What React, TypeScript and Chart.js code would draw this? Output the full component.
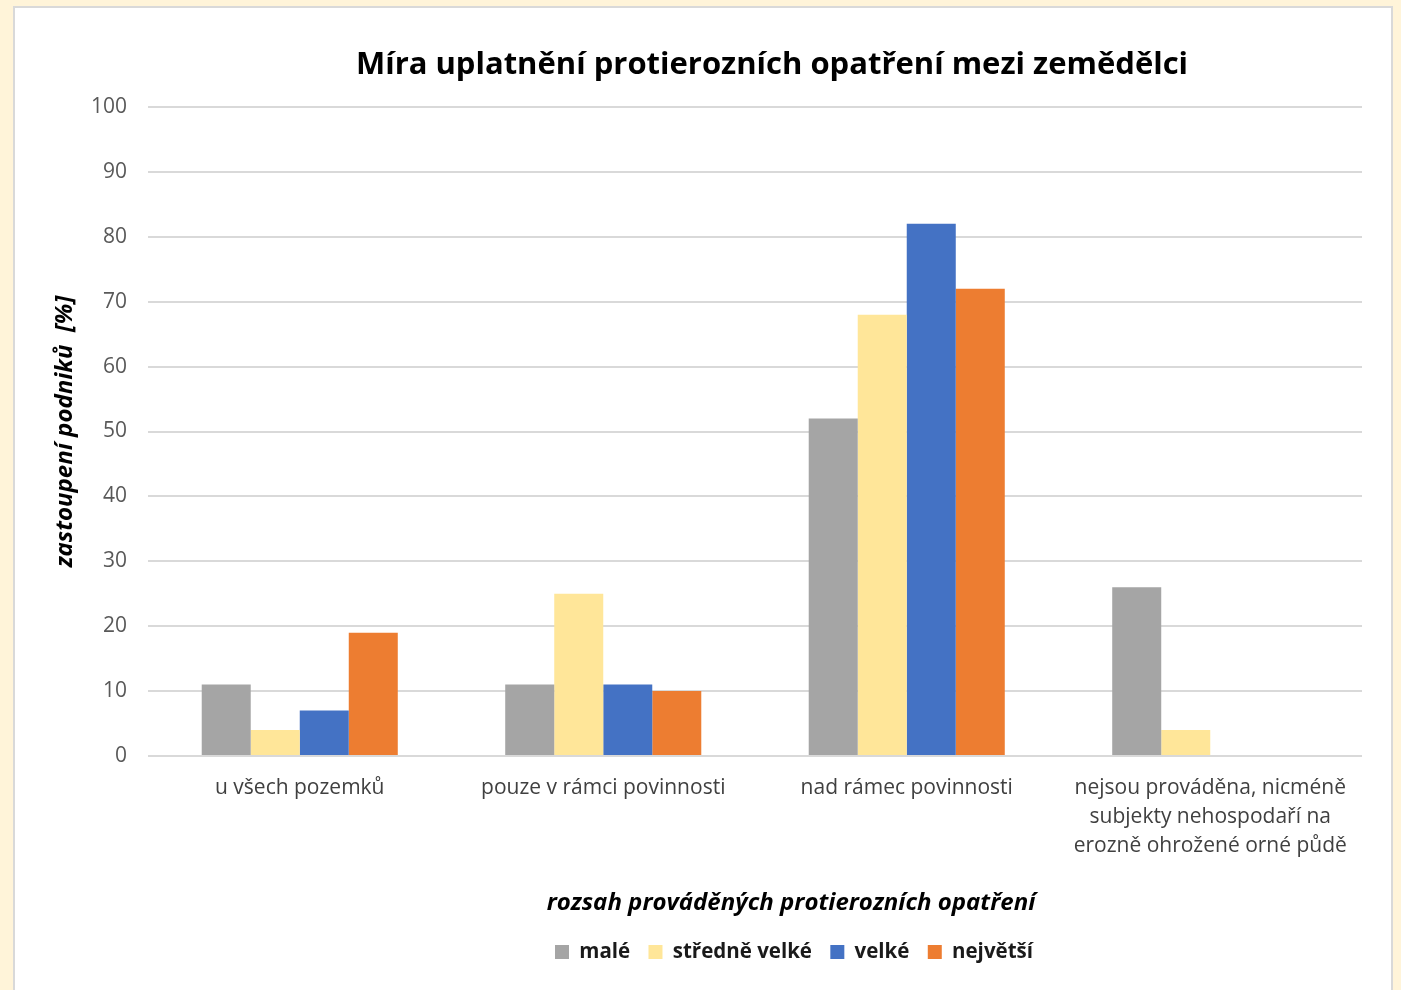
import React, { useEffect, useRef } from "react";
import { Chart, registerables } from "chart.js";

Chart.register(...registerables);

const TITLE = "Míra uplatnění protierozních opatření mezi zemědělci";
const Y_TITLE = "zastoupení podniků  [%]";
const X_TITLE = "rozsah prováděných protierozních opatření";

const CATEGORIES: (string | string[])[] = [
  "u všech pozemků",
  "pouze v rámci povinnosti",
  "nad rámec povinnosti",
  ["nejsou prováděna, nicméně", "subjekty nehospodaří na", "erozně ohrožené orné půdě"],
];

const SERIES_NAMES = ["malé", "středně velké", "velké", "největší"];
const MALE = [11, 11, 52, 26];
const STREDNE_VELKE = [4, 25, 68, 4];
const VELKE = [7, 11, 82, 0];
const NEJVETSI = [19, 10, 72, 0];
const SERIES_VALUES = [MALE, STREDNE_VELKE, VELKE, NEJVETSI];
const SERIES_COLORS = ["#A5A5A5", "#FFE699", "#4472C4", "#ED7D31"];

const Y_MIN = 0;
const Y_MAX = 100;
const Y_STEP = 10;

const FONT = "'Open Sans', 'Noto Sans', sans-serif";

// horizontal nudges of title / axis title / legend relative to the plot centre
const TITLE_SHIFT = 17;
const XTITLE_SHIFT = 36;
const LEGEND_SHIFT = 39;

const shiftPlugin = {
  id: "boxShift",
  afterLayout(chart: any) {
    const title = chart.titleBlock;
    const subtitle = chart.boxes.find(
      (b: any) => title && b !== title && b.constructor === title.constructor
    );
    const pairs: [any, number][] = [
      [title, TITLE_SHIFT],
      [subtitle, XTITLE_SHIFT],
      [chart.legend, LEGEND_SHIFT],
    ];
    for (const [box, dx] of pairs) {
      if (!box) continue;
      box.left += dx;
      box.right += dx;
    }
  },
};

export default function App() {
  const ref = useRef<HTMLCanvasElement | null>(null);

  useEffect(() => {
    if (!ref.current) return;
    const chart = new Chart(ref.current, {
      type: "bar",
      data: {
        labels: CATEGORIES as any,
        datasets: SERIES_NAMES.map((name, i) => ({
          label: name,
          data: SERIES_VALUES[i],
          backgroundColor: SERIES_COLORS[i],
          borderWidth: 0,
          barPercentage: 1,
          categoryPercentage: 0.646,
        })),
      },
      options: {
        responsive: false,
        animation: false,
        devicePixelRatio: 1,
        layout: { padding: { top: 0, left: 0, right: 29, bottom: 17.75 } },
        plugins: {
          title: {
            display: true,
            text: TITLE,
            fullSize: false,
            color: "#000000",
            font: { family: FONT, size: 31, weight: "bold", lineHeight: 1.2 },
            padding: { top: 38.4, bottom: 23.4 },
          },
          subtitle: {
            display: true,
            text: X_TITLE,
            position: "bottom",
            fullSize: false,
            weight: 500,
            color: "#000000",
            font: { family: FONT, size: 24, weight: "bold", style: "italic", lineHeight: 1.1 },
            padding: { top: 12, bottom: 7 },
          },
          legend: {
            display: true,
            position: "bottom",
            fullSize: false,
            weight: 1000,
            labels: {
              color: "#1A1A1A",
              boxWidth: 14,
              boxHeight: 14,
              padding: 18.35,
              font: { family: FONT, size: 20.5, weight: "bold" },
            },
          },
          tooltip: { enabled: false },
        },
        scales: {
          x: {
            grid: { display: false, drawTicks: false },
            border: { display: false },
            ticks: {
              color: "#404040",
              padding: 17.5,
              maxRotation: 0,
              autoSkip: false,
              font: { family: FONT, size: 21, lineHeight: 29 / 21 },
            },
          },
          y: {
            min: Y_MIN,
            max: Y_MAX,
            afterFit(scale: any) {
              scale.width = 133;
            },
            grid: { color: "#D9D9D9", lineWidth: 2, drawTicks: false },
            border: { display: false },
            ticks: {
              stepSize: Y_STEP,
              color: "#595959",
              padding: 21,
              font: { family: FONT, size: 21 },
            },
            title: {
              display: true,
              text: Y_TITLE,
              color: "#000000",
              padding: { top: 35.6, bottom: 0 },
              font: { family: FONT, size: 24, weight: "bold", style: "italic", lineHeight: 1.2 },
            },
          },
        },
      },
      plugins: [shiftPlugin],
    } as any);
    return () => chart.destroy();
  }, []);

  return (
    <div
      style={{
        position: "fixed",
        left: 0,
        top: 0,
        right: 0,
        bottom: 0,
        background: "#FFF4D9",
        overflow: "hidden",
      }}
    >
      <div
        style={{
          position: "absolute",
          left: 13,
          top: 6,
          width: 1376,
          height: 1000,
          border: "2px solid #D9D9D9",
          background: "#FFFFFF",
        }}
      >
        <canvas ref={ref} width={1376} height={982} style={{ display: "block", width: 1376, height: 982 }} />
      </div>
    </div>
  );
}
